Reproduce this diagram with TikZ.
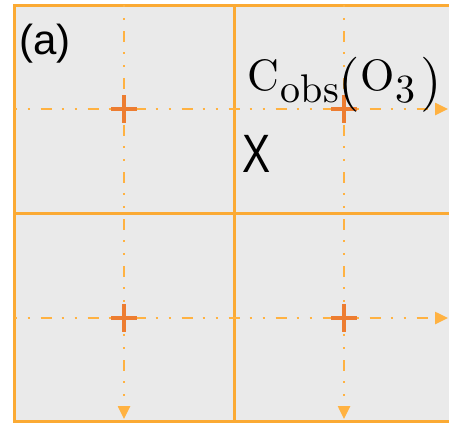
\documentclass[tikz,border=0pt]{standalone}
\usepackage{fontspec}
\newfontfamily\labelfont{Liberation Sans}
\usetikzlibrary{arrows.meta}

\definecolor{panelgrey}{RGB}{234,234,234}
\definecolor{gridorange}{RGB}{251,170,52}
\definecolor{guideorange}{RGB}{255,178,66}
\definecolor{crossorange}{RGB}{237,125,49}

\begin{document}
\begin{tikzpicture}[
    x=1pt, y=-1pt,
    cellline/.style={draw=gridorange, line width=3pt},
    guide/.style={draw=guideorange, line width=2.5pt,
                  dash pattern=on 2pt off 11pt on 2pt off 11pt on 11pt off 10pt,
                  -{Triangle[length=13pt,width=12pt]}},
    plus/.style={draw=crossorange, line width=3.5pt},
    label/.style={inner sep=0pt, anchor=base west}
]
\useasboundingbox (0,0) rectangle (449,423);

% --- Panel background and cells ---
\fill[panelgrey] (14,4) rectangle (449,422);
\begin{scope}
\clip (0,0) rectangle (449,423);
\foreach \i in {0,1}
  \foreach \j in {0,1}
    \draw[cellline] (14.5+219.5*\i,5+208*\j) rectangle ++(219.5,208);
\end{scope}

% --- Dash-dot guides through cell centres ---
\foreach \y/\n in {109/top,318/bot} {
  \coordinate (west-\n) at (14.5,\y);
  \coordinate (east-\n) at (448,\y);
  \draw[guide] (west-\n) -- (east-\n);
}
\foreach \x/\n in {124/left,344/right} {
  \coordinate (north-\n) at (\x,5);
  \coordinate (south-\n) at (\x,419);
  \draw[guide] (north-\n) -- (south-\n);
}

% --- Cell centre marks ---
\foreach \x in {124,344}
  \foreach \y in {109,318}
    \draw[plus] (\x-13,\y) -- (\x+13,\y) (\x,\y-14) -- (\x,\y+14);

% --- Labels ---
\node[label] (panel) at (19,54) {\labelfont\fontsize{42}{42}\selectfont (a)};
\node[label] (cross) at (242,172) {\labelfont\fontsize{54}{54}\selectfont\scalebox{0.78}[1]{X}};
\node[label] (cobs) at (247,90)
    {\scalebox{4.4}{C}\hspace{2pt}\raisebox{-12pt}{\scalebox{4.0}{obs}}%
     \raisebox{-8pt}{\scalebox{5.5}{(}}\scalebox{4.4}{O}%
     \hspace{1pt}\raisebox{-12pt}{\scalebox{4.0}{3}}%
     \hspace{5pt}\raisebox{-8pt}{\scalebox{5.5}{)}}};

\end{tikzpicture}
\end{document}
